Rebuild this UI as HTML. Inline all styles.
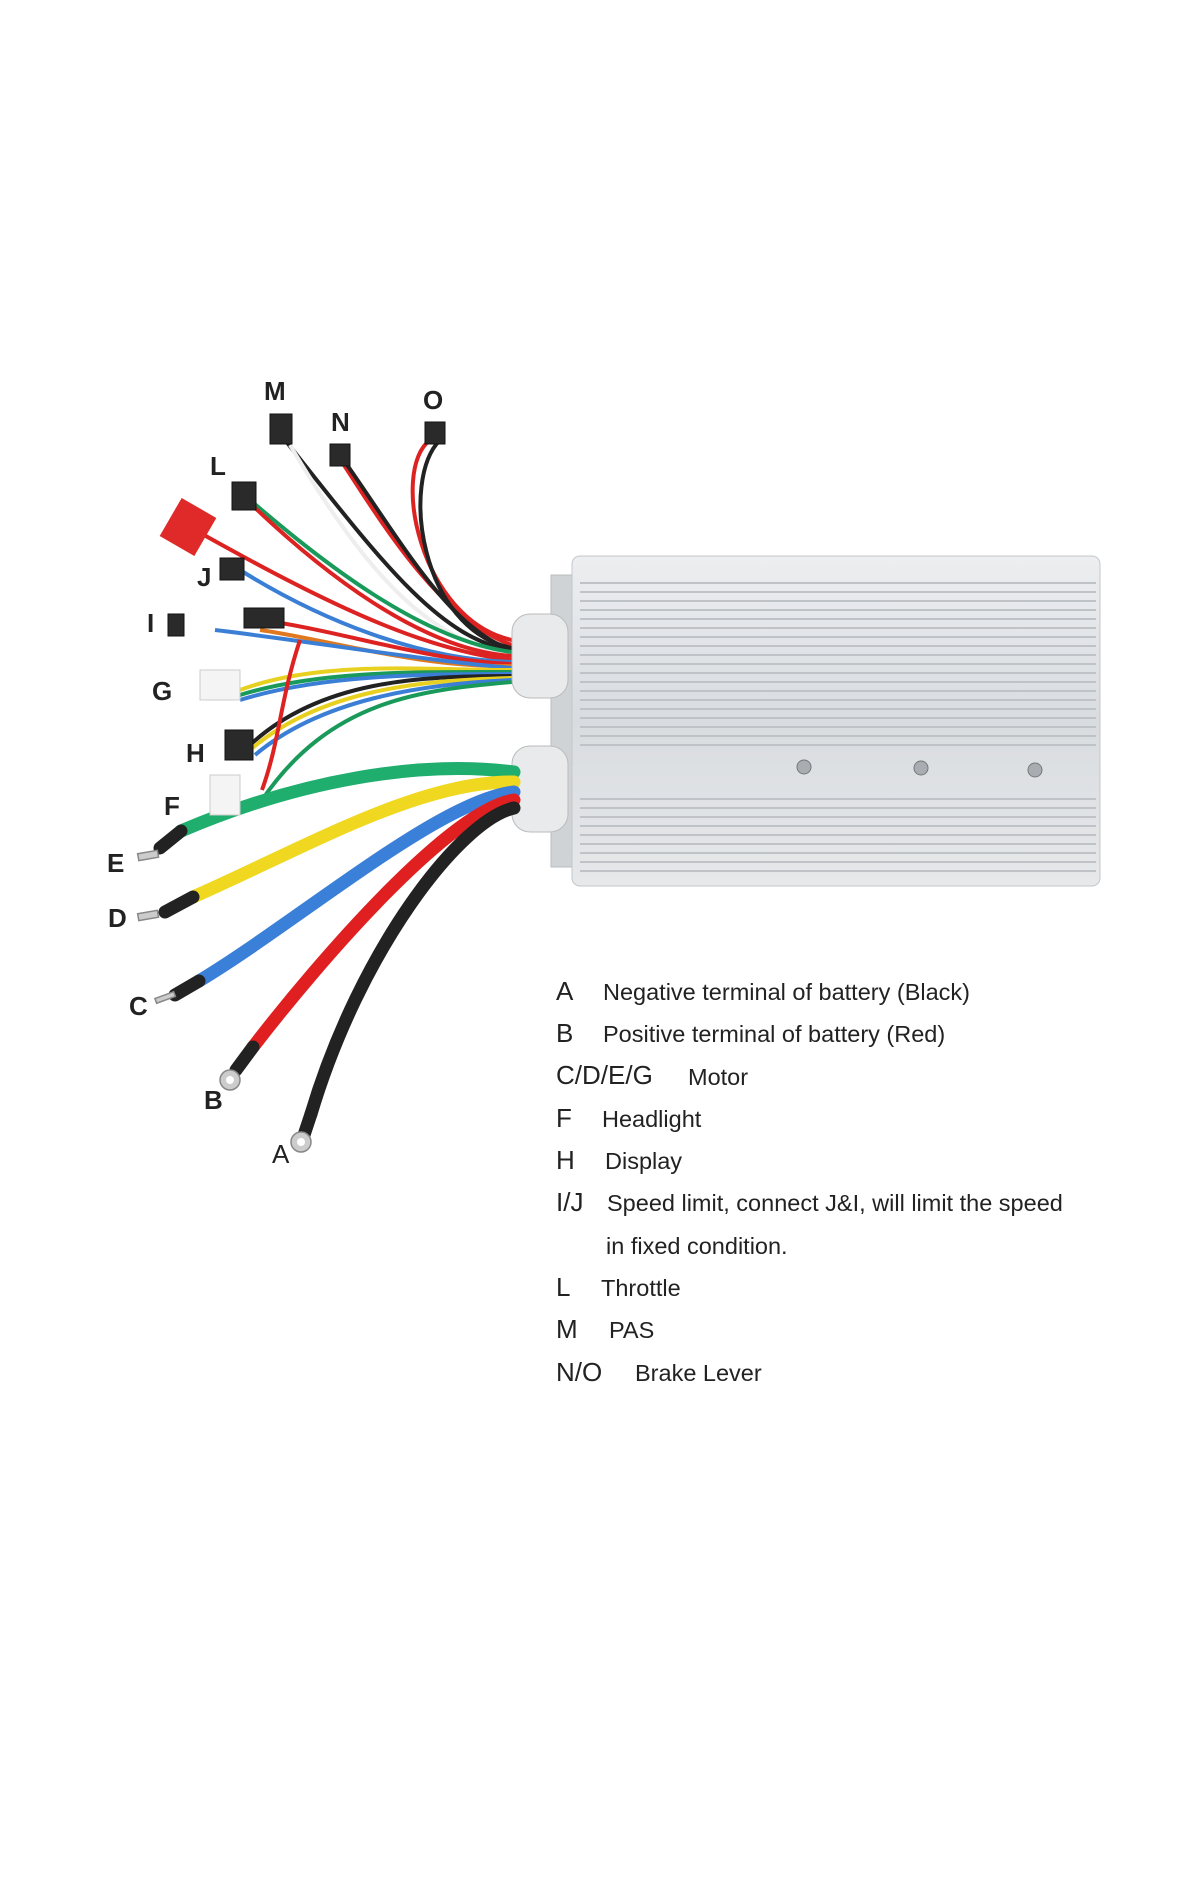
<!DOCTYPE html>
<html><head><meta charset="utf-8"><style>
html,body{margin:0;padding:0;background:#fff}
body{width:1179px;height:1901px;position:relative;overflow:hidden;font-family:"Liberation Sans",Arial,sans-serif}
svg{position:absolute;left:0;top:0}
.lg{position:absolute;font-size:23.5px;color:#222;white-space:nowrap;line-height:1}
.L{font-size:26px}
.k{position:absolute;font-size:26px;color:#222;line-height:1}
</style></head><body>
<svg width="1179" height="1901" viewBox="0 0 1179 1901">
<defs>
<linearGradient id="bx" x1="0" y1="0" x2="0" y2="1">
<stop offset="0" stop-color="#eceef0"/><stop offset="0.5" stop-color="#d9dcdf"/><stop offset="1" stop-color="#e6e8ea"/>
</linearGradient>
<pattern id="fin" width="10" height="9" patternUnits="userSpaceOnUse">
<rect width="10" height="9" fill="none"/><rect y="6" width="10" height="2" fill="#bfc3c7"/>
</pattern>
</defs>
<rect x="551" y="575" width="26" height="292" fill="#d0d3d6" stroke="#b8bcc0"/>
<rect x="572" y="556" width="528" height="330" rx="8" fill="url(#bx)" stroke="#c4c7ca"/>
<rect x="580" y="576" width="516" height="170" fill="url(#fin)"/>
<rect x="580" y="792" width="516" height="84" fill="url(#fin)"/>
<g fill="#a9adb1" stroke="#777"><circle cx="804" cy="767" r="7"/><circle cx="921" cy="768" r="7"/><circle cx="1035" cy="770" r="7"/></g>
<g fill="none" stroke-width="4">
<path d="M512 650 C440 640 380 560 285 440" stroke="#222"/>
<path d="M512 655 C430 640 370 580 290 445" stroke="#eee"/>
<path d="M512 645 C440 620 380 520 342 462" stroke="#d22"/>
<path d="M512 650 C450 630 400 540 345 462" stroke="#222"/>
<path d="M512 640 C420 620 390 470 430 440" stroke="#d22"/>
<path d="M512 648 C420 630 400 480 440 440" stroke="#222"/>
<path d="M512 652 C420 640 320 560 250 500" stroke="#1a9a5a"/>
<path d="M512 656 C420 650 320 570 252 505" stroke="#d22"/>
<path d="M512 660 C420 650 320 600 195 530" stroke="#d22"/>
<path d="M512 662 C420 660 320 620 240 570" stroke="#3a7fd5"/>
<path d="M512 664 C420 660 340 630 260 620" stroke="#d22"/>
<path d="M512 666 C420 668 330 640 260 630" stroke="#e07820"/>
<path d="M512 668 C420 660 300 640 215 630" stroke="#3a7fd5"/>
<path d="M512 670 C420 670 320 660 240 690" stroke="#e8d020"/>
<path d="M512 672 C420 672 320 670 240 695" stroke="#1a9a5a"/>
<path d="M512 674 C420 674 320 675 240 700" stroke="#3a7fd5"/>
<path d="M512 676 C420 676 320 680 250 745" stroke="#222"/>
<path d="M512 678 C420 680 320 690 250 750" stroke="#e8d020"/>
<path d="M512 680 C420 684 320 700 255 755" stroke="#3a7fd5"/>
<path d="M512 682 C420 690 330 700 262 800" stroke="#1a9a5a"/>
<path d="M300 640 C280 700 280 740 262 790" stroke="#d22"/>
</g>
<rect x="512" y="614" width="56" height="84" rx="18" fill="#e8eaec" stroke="#bbb"/>
<rect x="512" y="746" width="56" height="86" rx="18" fill="#e8eaec" stroke="#bbb"/>
<g fill="none" stroke-width="13" stroke-linecap="round">
<path d="M514 772 C420 760 300 780 181 831" stroke="#1fae6e"/>
<path d="M514 782 C420 780 300 850 193 897" stroke="#f0d820"/>
<path d="M514 792 C440 800 300 920 199 981" stroke="#3a7fd8"/>
<path d="M514 800 C450 810 320 960 253 1047" stroke="#e02020"/>
<path d="M514 808 C460 820 360 950 311 1114" stroke="#222"/>
</g>
<g fill="none" stroke="#222" stroke-width="13" stroke-linecap="round">
<path d="M181 831 L160 848"/><path d="M193 897 L165 912"/><path d="M199 981 L175 995"/>
<path d="M253 1047 L236 1070"/><path d="M311 1114 L304 1135"/>
</g>
<g fill="#ccc" stroke="#888" stroke-width="1.5">
<rect x="138" y="852" width="20" height="7" transform="rotate(-10 148 855)"/>
<rect x="138" y="912" width="20" height="7" transform="rotate(-10 148 915)"/>
<rect x="155" y="995" width="20" height="5" transform="rotate(-20 165 997)"/>
<circle cx="230" cy="1080" r="10"/><circle cx="301" cy="1142" r="10"/>
</g>
<g fill="#fff"><circle cx="230" cy="1080" r="4"/><circle cx="301" cy="1142" r="4"/></g>
<g fill="#2a2a2a" stroke="#111">
<rect x="270" y="414" width="22" height="30"/><rect x="330" y="444" width="20" height="22"/>
<rect x="425" y="422" width="20" height="22"/><rect x="232" y="482" width="24" height="28"/>
<rect x="220" y="558" width="24" height="22"/><rect x="244" y="608" width="40" height="20"/>
<rect x="168" y="614" width="16" height="22"/><rect x="225" y="730" width="28" height="30"/>
</g>
<rect x="168" y="505" width="40" height="44" fill="#e02a2a" transform="rotate(30 188 527)"/>
<g fill="#f4f4f4" stroke="#ccc">
<rect x="200" y="670" width="40" height="30"/><rect x="210" y="775" width="30" height="40"/>
</g>
</svg>
<div class="k" style="left:264px;top:378px;font-weight:bold">M</div>
<div class="k" style="left:331px;top:409px;font-weight:bold">N</div>
<div class="k" style="left:423px;top:387px;font-weight:bold">O</div>
<div class="k" style="left:210px;top:453px;font-weight:bold">L</div>
<div class="k" style="left:197px;top:564px;font-weight:bold">J</div>
<div class="k" style="left:147px;top:610px;font-weight:bold">I</div>
<div class="k" style="left:152px;top:678px;font-weight:bold">G</div>
<div class="k" style="left:186px;top:740px;font-weight:bold">H</div>
<div class="k" style="left:164px;top:793px;font-weight:bold">F</div>
<div class="k" style="left:107px;top:850px;font-weight:bold">E</div>
<div class="k" style="left:108px;top:905px;font-weight:bold">D</div>
<div class="k" style="left:129px;top:993px;font-weight:bold">C</div>
<div class="k" style="left:204px;top:1087px;font-weight:bold">B</div>
<div class="k" style="left:272px;top:1141px">A</div>

<div class="lg L" style="left:556px;top:978px">A</div><div class="lg" style="left:603px;top:981px">Negative terminal of battery (Black)</div>
<div class="lg L" style="left:556px;top:1020px">B</div><div class="lg" style="left:603px;top:1023px">Positive terminal of battery (Red)</div>
<div class="lg L" style="left:556px;top:1062px">C/D/E/G</div><div class="lg" style="left:688px;top:1066px">Motor</div>
<div class="lg L" style="left:556px;top:1105px">F</div><div class="lg" style="left:602px;top:1108px">Headlight</div>
<div class="lg L" style="left:556px;top:1147px">H</div><div class="lg" style="left:605px;top:1150px">Display</div>
<div class="lg L" style="left:556px;top:1189px">I/J</div><div class="lg" style="left:607px;top:1192px">Speed limit, connect J&amp;I, will limit the speed</div>
<div class="lg" style="left:606px;top:1235px">in fixed condition.</div>
<div class="lg L" style="left:556px;top:1274px">L</div><div class="lg" style="left:601px;top:1277px">Throttle</div>
<div class="lg L" style="left:556px;top:1316px">M</div><div class="lg" style="left:609px;top:1319px">PAS</div>
<div class="lg L" style="left:556px;top:1359px">N/O</div><div class="lg" style="left:635px;top:1362px">Brake Lever</div>
</body></html>
